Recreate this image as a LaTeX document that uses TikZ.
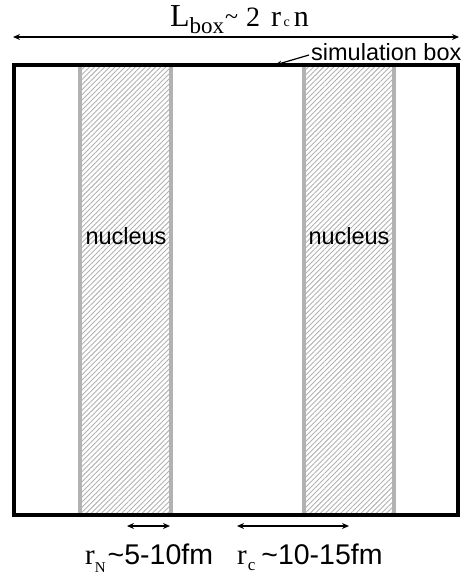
\documentclass[tikz,border=0pt]{standalone}
\usepackage{fontspec}
\setmainfont{Liberation Sans}
\newfontfamily\seriff{Liberation Serif}
\usetikzlibrary{patterns.meta,arrows.meta}
\newcommand\fsz[1]{\fontsize{#1}{#1}\selectfont}
\begin{document}
\begin{tikzpicture}[x=1pt,y=-1pt,
  dimarrow/.style={{Stealth[length=7pt,width=6pt]}-{Stealth[length=7pt,width=6pt]},line width=1.4pt},
  hatch/.style={pattern={Lines[angle=45,distance=3.6pt,line width=0.9pt]},pattern color=gray!60},
  rim/.style={draw=gray!60,line width=4pt},
  lbl/.style={inner sep=0pt,font=\fontsize{23.5}{26}\selectfont},
  dimlbl/.style={inner sep=0pt,font=\fontsize{28.5}{30}\selectfont,anchor=base west}]
\useasboundingbox (0,0) rectangle (462,579);
% strips
\fill[hatch] (80,65) rectangle (171,515);
\fill[hatch] (304,65) rectangle (394,515);
\draw[rim] (80,65) -- (80,515);
\draw[rim] (171,65) -- (171,515);
\draw[rim] (304,65) -- (304,515);
\draw[rim] (394,65) -- (394,515);
% simulation box
\node[draw,line width=3.5pt,minimum width=444pt,minimum height=450pt,inner sep=0pt] (box) at (236,290) {};
\node[lbl] (n1) at (126,236) {nucleus};
\node[lbl] (n2) at (349,236) {nucleus};
% title
\node[inner sep=0pt,anchor=base west] (title) at (170,26) {\seriff\fsz{32}L\raisebox{-7pt}{\fsz{23}box}\kern1pt\raisebox{2pt}{\fsz{24}\char`\~}\kern8pt{\fsz{28}2}\kern11pt{\fsz{30}r}\kern2.5pt{\fsz{14}c}\kern4pt{\fsz{30}n}};
\coordinate (tl) at (13,37);
\coordinate (tr) at (459,37);
\draw[dimarrow] (tl) -- (tr);
% simulation box label
\node[lbl,anchor=west] (sb) at (311,52) {simulation box};
\coordinate (sbp) at (275,65);
\draw[-{Stealth[length=7pt,width=5pt]},line width=1.2pt] (sb.west) ++(-2,3) -- (sbp);
% bottom dims
\coordinate (a1) at (127,526);
\coordinate (b1) at (170,526);
\coordinate (a2) at (237,526);
\coordinate (b2) at (349,526);
\draw[dimarrow] (a1) -- (b1);
\draw[dimarrow] (a2) -- (b2);
\node[dimlbl] (rn) at (85,564) {{\seriff\fsz{29}r\raisebox{-8pt}{\fsz{15}N}}\kern2pt\char`\~5-10fm};
\node[dimlbl] (rc) at (237,564) {{\seriff\fsz{29}r\kern1pt\raisebox{-6pt}{\fsz{17}c}}\kern6pt\char`\~10-15fm};
\end{tikzpicture}
\end{document}
